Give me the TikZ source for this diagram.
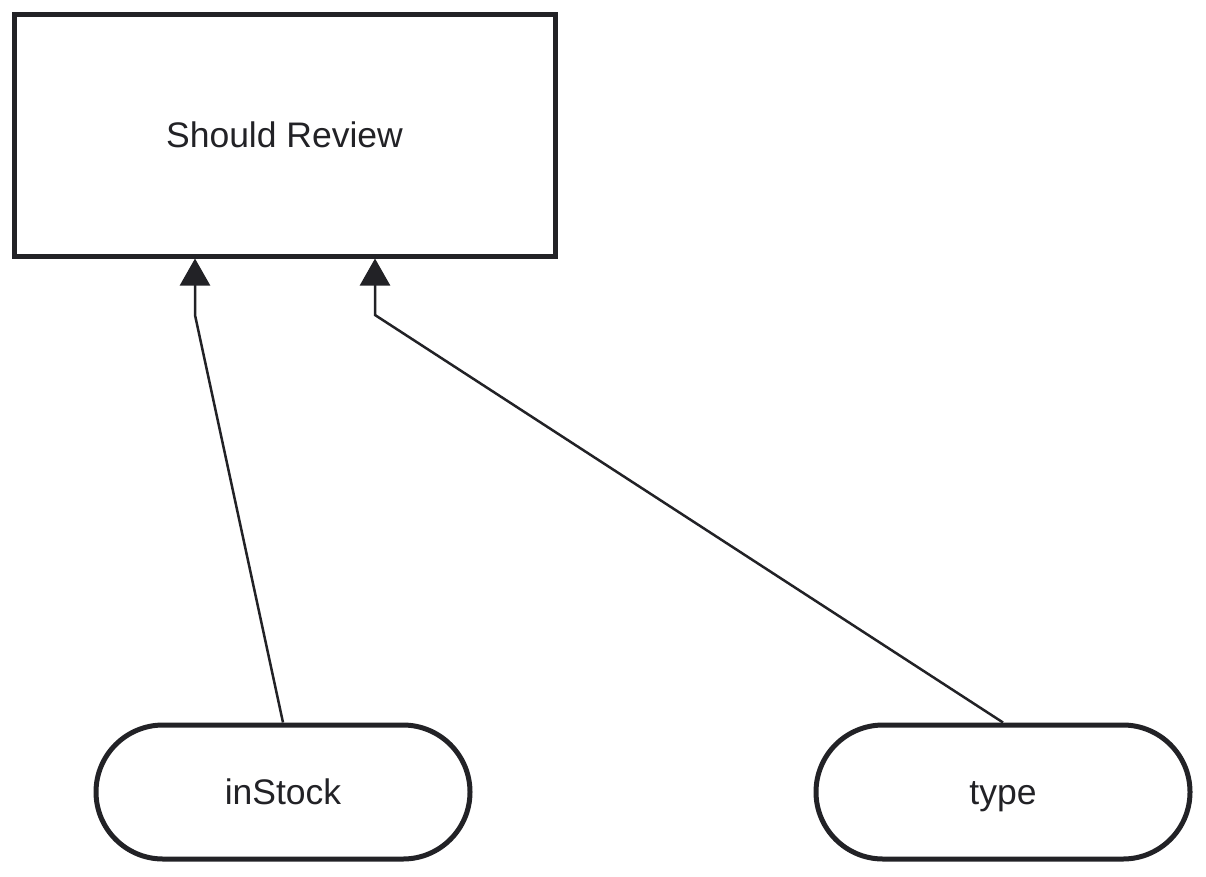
\documentclass[tikz,border=0pt]{standalone}
\usepackage{fontspec}
\setmainfont{Liberation Sans}
\usetikzlibrary{arrows.meta,shapes.misc}
\definecolor{ink}{RGB}{34,34,38}
\begin{document}
\begin{tikzpicture}[x=1pt,y=-1pt,
  every node/.style={font=\fontsize{35.5}{40}\selectfont, text=ink},
  box/.style={draw=ink, line width=5pt, rectangle, minimum width=541pt, minimum height=242pt, inner sep=0pt},
  pill/.style={draw=ink, line width=5pt, rounded rectangle, rounded rectangle arc length=180, minimum width=374pt, minimum height=134pt, inner sep=0pt, text height=25pt, text depth=0pt},
  conn/.style={draw=ink, line width=2.5pt, -{Triangle[width=30pt,length=27pt]}}
]
\useasboundingbox (0,0) rectangle (1206,876);
\node[box] (sr) at (284.5,135) {Should Review};
\node[pill] (in) at (283,792) {inStock};
\node[pill] (ty) at (1003,792) {type};
\coordinate (b1) at (195,315);
\coordinate (b2) at (375,315);
\draw[conn] (in.north) -- (b1) -- (b1 |- sr.south);
\draw[conn] (ty.north) -- (b2) -- (b2 |- sr.south);
\end{tikzpicture}
\end{document}
